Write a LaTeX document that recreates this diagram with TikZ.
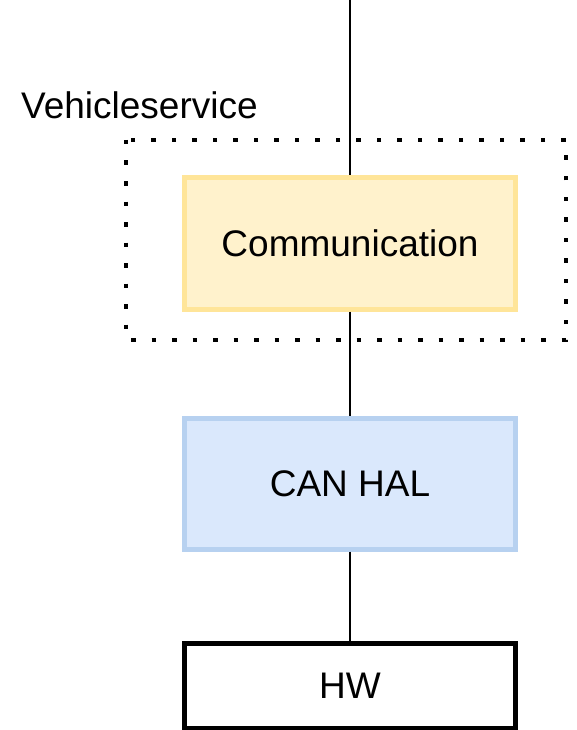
\documentclass[tikz,border=0pt]{standalone}
\usepackage{fontspec}
\setmainfont{Liberation Sans}
\definecolor{commfill}{HTML}{FFF2CC}
\definecolor{commline}{HTML}{FFE599}
\definecolor{halfill}{HTML}{DAE8FC}
\definecolor{halline}{HTML}{B7D1F0}
\usetikzlibrary{positioning}
\tikzstyle{layer}=[draw,line width=5pt,minimum width=331pt,minimum
height=131pt,inner sep=0pt,font=\fontsize{37}{44}\selectfont]
\tikzstyle{group}=[draw,line width=4.5pt,dash pattern=on 4.5pt off 16pt]

\begin{document}
\begin{tikzpicture}[x=1pt, y=-1pt, node distance=240pt, on grid]
  \useasboundingbox (0,0) rectangle (577,730);

  \node[layer, draw=commline, fill=commfill] (comm) at (350,243.5) {Communication};
  \node[layer, draw=halline, fill=halfill, below=of comm] (hal) {CAN HAL};
  \node[layer, minimum height=85pt, below=202.5pt of hal] (hw) {HW};

  \draw[group] (126,140) rectangle (566,340);
  \node[anchor=base west, inner sep=0pt, font=\fontsize{37}{44}\selectfont]
    (vs) at (21,119) {Vehicleservice};

  \coordinate (top) at (350,0);
  \draw[line width=1.5pt] (top) -- (comm) (comm) -- (hal) (hal) -- (hw);
\end{tikzpicture}
\end{document}
